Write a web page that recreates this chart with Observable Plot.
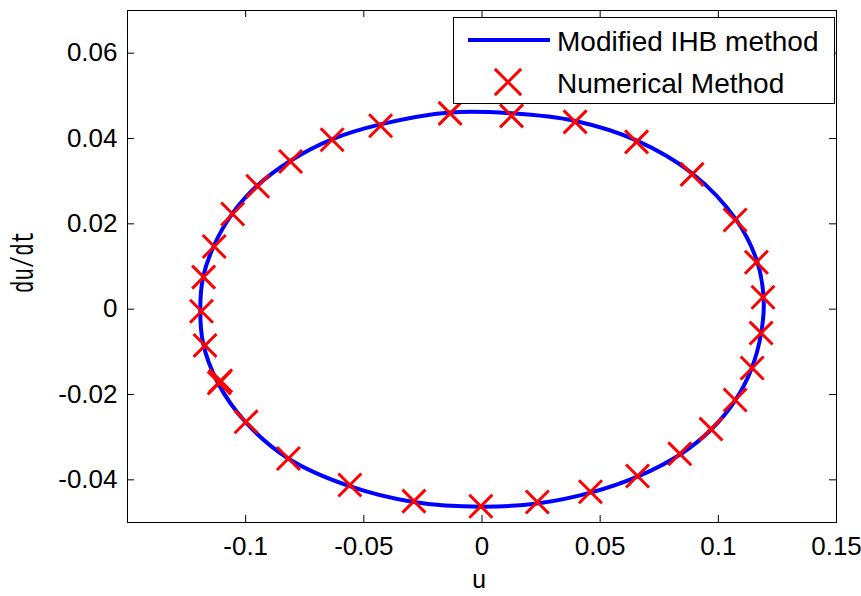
<!DOCTYPE html>
<html><head><meta charset="utf-8">
<script src="https://cdn.jsdelivr.net/npm/d3@7"></script>
<script src="https://cdn.jsdelivr.net/npm/@observablehq/plot@0.6"></script>
<style>body{margin:0;background:#fff} #chart{width:861px;height:596px}</style>
</head><body><div id="chart"></div>
<script>
// Blue curve (Modified IHB method)
const uLine = [-0.1192,-0.1180,-0.1120,-0.1000,-0.0820,-0.0560,-0.0290,0.0000,0.0240,0.0460,0.0660,0.0840,0.0970,0.1070,0.1140,0.1180,0.1192,0.1165,0.1075,0.0890,0.0655,0.0395,0.0125,-0.0135,-0.0430,-0.0635,-0.0810,-0.0950,-0.1055,-0.1135,-0.1180];
const vLine = [0.0000,-0.0080,-0.0170,-0.0265,-0.0350,-0.0415,-0.0452,-0.0463,-0.0455,-0.0430,-0.0392,-0.0340,-0.0282,-0.0215,-0.0140,-0.0060,0.0020,0.0110,0.0210,0.0318,0.0395,0.0441,0.0459,0.0461,0.0433,0.0398,0.0348,0.0290,0.0225,0.0148,0.0075];
// Red crosses (Numerical Method)
const uNum = [-0.1187,-0.1172,-0.1112,-0.1106,-0.0998,-0.0819,-0.0559,-0.0288,-0.0005,0.0234,0.0459,0.0658,0.0837,0.0969,0.1071,0.1143,0.1181,0.1189,0.1161,0.1071,0.0889,0.0654,0.0394,0.0125,-0.0135,-0.0429,-0.0634,-0.0810,-0.0949,-0.1055,-0.1133,-0.1178];
const vNum = [-0.0005,-0.0085,-0.0173,-0.0168,-0.0264,-0.0350,-0.0412,-0.0450,-0.0462,-0.0452,-0.0428,-0.0391,-0.0339,-0.0281,-0.0213,-0.0138,-0.0056,0.0028,0.0110,0.0209,0.0316,0.0392,0.0439,0.0453,0.0459,0.0430,0.0397,0.0346,0.0288,0.0223,0.0147,0.0075];
const xTicks = [-0.1,-0.05,0,0.05,0.1,0.15];
const yTicks = [-0.04,-0.02,0,0.02,0.04,0.06];
const xDomain = [-0.15,0.15];
const yDomain = [-0.05,0.07];
const seriesNames = ["Modified IHB method","Numerical Method"];
const xLabel = "u";
const yLabel = "du/dt";

const lineData = uLine.map((u,i)=>({u, v:vLine[i]}));
const numData = uNum.map((u,i)=>({u, v:vNum[i]}));
const font = "'Liberation Sans', Arial, sans-serif";
const W = 861, H = 596, mL = 127, mR = 25, mT = 10, mB = 74, TL = 7;
const fw = W - mL - mR, fh = H - mT - mB;

const plot = Plot.plot({
  width: W, height: H,
  marginLeft: mL, marginRight: mR, marginTop: mT, marginBottom: mB,
  style: {fontFamily: font, fontSize: "26px", color: "#000", background: "#fff"},
  x: {domain: xDomain},
  y: {domain: yDomain},
  marks: [
    Plot.line(lineData, {x:"u", y:"v", curve:"catmull-rom-closed", stroke:"#0000ff", strokeWidth:4}),
    Plot.dot(numData, {x:"u", y:"v", symbol:"times", r:10.5, stroke:"#ff0000", strokeWidth:3}),
    // inward ticks on all four sides
    Plot.tickX(xTicks, {x: d => d, insetTop: fh - TL, stroke:"#000"}),
    Plot.tickX(xTicks, {x: d => d, insetBottom: fh - TL, stroke:"#000"}),
    Plot.tickY(yTicks, {y: d => d, insetRight: fw - TL, stroke:"#000"}),
    Plot.tickY(yTicks, {y: d => d, insetLeft: fw - TL, stroke:"#000"}),
    Plot.axisX(xTicks, {anchor:"bottom", tickSize:0, tickPadding:14, tickFormat:d=>String(d), label:null, fontSize:26, fill:"#000"}),
    Plot.axisY(yTicks, {anchor:"left", tickSize:0, tickPadding:10, tickFormat:d=>String(d), label:null, fontSize:26, fill:"#000"}),
    Plot.frame({stroke:"#000"})
  ]
});

const svg = d3.select(plot);
// axis labels
svg.append("text").attr("x",479).attr("y",588).attr("text-anchor","middle")
  .attr("font-family","'Liberation Mono', 'Courier New', monospace").attr("font-size",25).attr("fill","#000").text(xLabel);
svg.append("text").attr("transform","translate(33,262) rotate(-90)").attr("text-anchor","middle")
  .attr("font-family","'Liberation Mono', 'Courier New', monospace").attr("font-size",32)
  .attr("textLength",62).attr("lengthAdjust","spacingAndGlyphs").attr("fill","#000").text(yLabel);

// legend
const lg = svg.append("g");
lg.append("rect").attr("x",453.5).attr("y",17.5).attr("width",381).attr("height",86).attr("fill","#fff").attr("stroke","#000");
lg.append("line").attr("x1",468).attr("x2",550).attr("y1",40).attr("y2",40).attr("stroke","#0000ff").attr("stroke-width",4);
lg.append("path").attr("transform","translate(508,82)")
  .attr("d", d3.symbol(d3.symbolTimes, Math.PI*12*12)()).attr("fill","none").attr("stroke","#ff0000").attr("stroke-width",3);
lg.append("text").attr("x",557).attr("y",51).attr("text-anchor","start").attr("font-family",font).attr("font-size",28).attr("fill","#000").text(seriesNames[0]);
lg.append("text").attr("x",557).attr("y",93).attr("text-anchor","start").attr("font-family",font).attr("font-size",28).attr("fill","#000").text(seriesNames[1]);

document.getElementById("chart").appendChild(plot);
</script>
</body></html>
